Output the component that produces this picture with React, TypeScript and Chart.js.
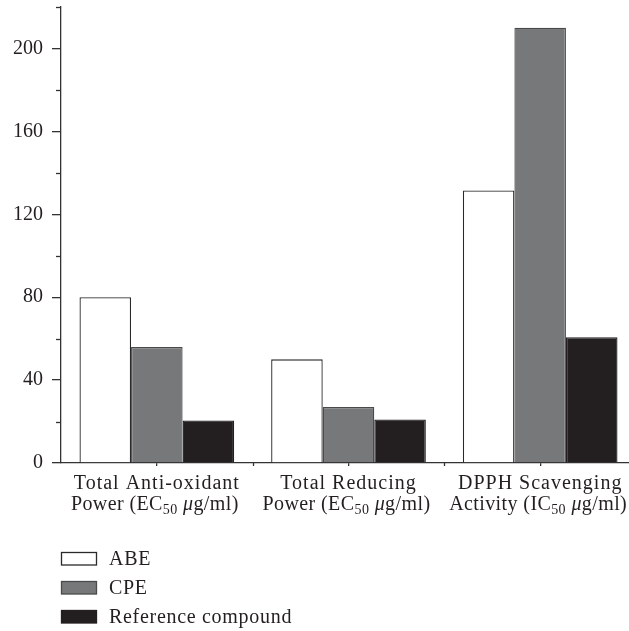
import React, { useEffect, useRef } from "react";
import { Chart, registerables } from "chart.js";

Chart.register(...registerables);

// ---- data ----
const categoryTitles = ["Total Anti-oxidant", "Total Reducing", "DPPH Scavenging"];
const categoryPrefixes = ["Power (EC", "Power (EC", "Activity (IC"];
const categorySubscripts = ["50", "50", "50"];
const categoryUnitSymbol = ["μ", "μ", "μ"];
const categoryUnitRest = ["g/ml)", "g/ml)", "g/ml)"];
const seriesNames = ["ABE", "CPE", "Reference compound"];
const abeValues = [80, 50, 131.5];
const cpeValues = [56, 27, 210];
const refValues = [20.5, 21, 60.7];
const yTickLabels = [0, 40, 80, 120, 160, 200];
const yMax = 220;
const yStep = 20;

// ---- style ----
const FONT = '"Liberation Serif", "Times New Roman", serif';
const AXIS = "#333333";
const TEXT = "#231f20";
const fills = ["#ffffff", "#77787a", "#231f20"];
const borders = ["#2a2a2a", "#4a4a4a", "#231f20"];

const richPlugin = {
  id: "richLabels",
  afterDraw(chart: any) {
    const ctx: any = chart.ctx;
    const xs = chart.scales.x;
    const ys = chart.scales.y;
    const area = chart.chartArea;
    ctx.save();
    // minor y ticks
    ctx.strokeStyle = AXIS;
    ctx.lineWidth = 1.3;
    ys.ticks.forEach((t: any) => {
      if (!yTickLabels.includes(t.value)) {
        const y = Math.round(ys.getPixelForValue(t.value)) + 0.5;
        ctx.beginPath();
        ctx.moveTo(area.left - 5, y);
        ctx.lineTo(area.left, y);
        ctx.stroke();
      }
    });
    // x boundary ticks
    for (let i = 1; i < categoryTitles.length; i++) {
      const x = Math.round(xs.getPixelForValue(i - 0.5)) + 0.5;
      ctx.beginPath();
      ctx.moveTo(x, area.bottom);
      ctx.lineTo(x, area.bottom + 3);
      ctx.stroke();
    }
    // x category labels with subscripts
    ctx.fillStyle = TEXT;
    ctx.textBaseline = "alphabetic";
    const normal = `20px ${FONT}`;
    const small = `14px ${FONT}`;
    const italic = `italic 20px ${FONT}`;
    categoryTitles.forEach((title, i) => {
      const cx = xs.getPixelForValue(i);
      ctx.font = normal;
      ctx.letterSpacing = "1px";
      ctx.textAlign = "left";
      const w1 = ctx.measureText(title).width;
      ctx.fillText(title, cx - w1 / 2, area.bottom + 26);
      ctx.letterSpacing = "0.4px";
      const parts = [
        { t: categoryPrefixes[i], f: normal, dy: 0 },
        { t: categorySubscripts[i], f: small, dy: 4 },
        { t: " ", f: normal, dy: 0 },
        { t: categoryUnitSymbol[i], f: italic, dy: 0 },
        { t: categoryUnitRest[i], f: normal, dy: 0 },
      ];
      let total = 0;
      parts.forEach((p) => {
        ctx.font = p.f;
        total += ctx.measureText(p.t).width;
      });
      let x = cx - total / 2 - 2;
      parts.forEach((p) => {
        ctx.font = p.f;
        ctx.fillText(p.t, x, area.bottom + 47 + p.dy);
        x += ctx.measureText(p.t).width;
      });
    });
    // legend (vertical list)
    ctx.letterSpacing = "0.7px";
    chart.data.datasets.forEach((ds: any, i: number) => {
      const base = area.bottom + 102 + i * 29;
      const bx = area.left + 0.5;
      ctx.fillStyle = ds.backgroundColor;
      ctx.fillRect(bx, base - 12.5, 35, 12.5);
      ctx.strokeStyle = ds.borderColor;
      ctx.lineWidth = 1.3;
      ctx.strokeRect(bx, base - 12.5, 35, 12.5);
      ctx.fillStyle = TEXT;
      ctx.font = normal;
      ctx.textAlign = "left";
      ctx.fillText(ds.label, area.left + 48, base);
    });
    ctx.restore();
  },
};

export default function App() {
  const ref = useRef<HTMLCanvasElement | null>(null);
  useEffect(() => {
    if (!ref.current) return;
    const datasets = [abeValues, cpeValues, refValues].map((vals, i) => ({
      label: seriesNames[i],
      data: vals,
      backgroundColor: fills[i],
      borderColor: borders[i],
      borderWidth: 1.3,
      barPercentage: 1,
      categoryPercentage: 0.807,
    }));
    const chart = new Chart(ref.current, {
      type: "bar",
      data: { labels: categoryTitles, datasets },
      options: {
        animation: false,
        responsive: false,
        layout: { padding: { top: 7, right: 4, left: 0, bottom: 0 } },
        plugins: { legend: { display: false }, tooltip: { enabled: false } },
        scales: {
          x: {
            grid: {
              display: true,
              drawOnChartArea: false,
              drawTicks: true,
              tickLength: 3,
              offset: false,
              color: AXIS,
              lineWidth: 1.3,
            },
            border: { display: true, color: AXIS, width: 1.3 },
            ticks: { display: false },
            afterFit: (s: any) => {
              s.height = 168;
              s.paddingLeft = 0;
              s.paddingRight = 0;
            },
          },
          y: {
            min: 0,
            max: yMax,
            ticks: {
              stepSize: yStep,
              padding: 9,
              color: TEXT,
              font: { family: FONT, size: 20 },
              callback: (v: any) => (yTickLabels.includes(Number(v)) ? String(v) : ""),
            },
            grid: {
              drawOnChartArea: false,
              tickLength: 9,
              lineWidth: 1.3,
              tickColor: (c: any) => (c.tick && yTickLabels.includes(c.tick.value) ? AXIS : "rgba(0,0,0,0)"),
            },
            border: { display: true, color: AXIS, width: 1.3 },
            afterFit: (s: any) => {
              s.width = 61;
              s.paddingTop = 0;
              s.paddingBottom = 0;
            },
          },
        },
      },
      plugins: [richPlugin],
    });
    return () => chart.destroy();
  }, []);
  return (
    <div style={{ position: "absolute", left: 0, top: 0, width: 629, height: 631, overflow: "hidden", background: "#fff" }}>
      <canvas ref={ref} width={640} height={631} style={{ width: 640, height: 631, display: "block" }} />
    </div>
  );
}
